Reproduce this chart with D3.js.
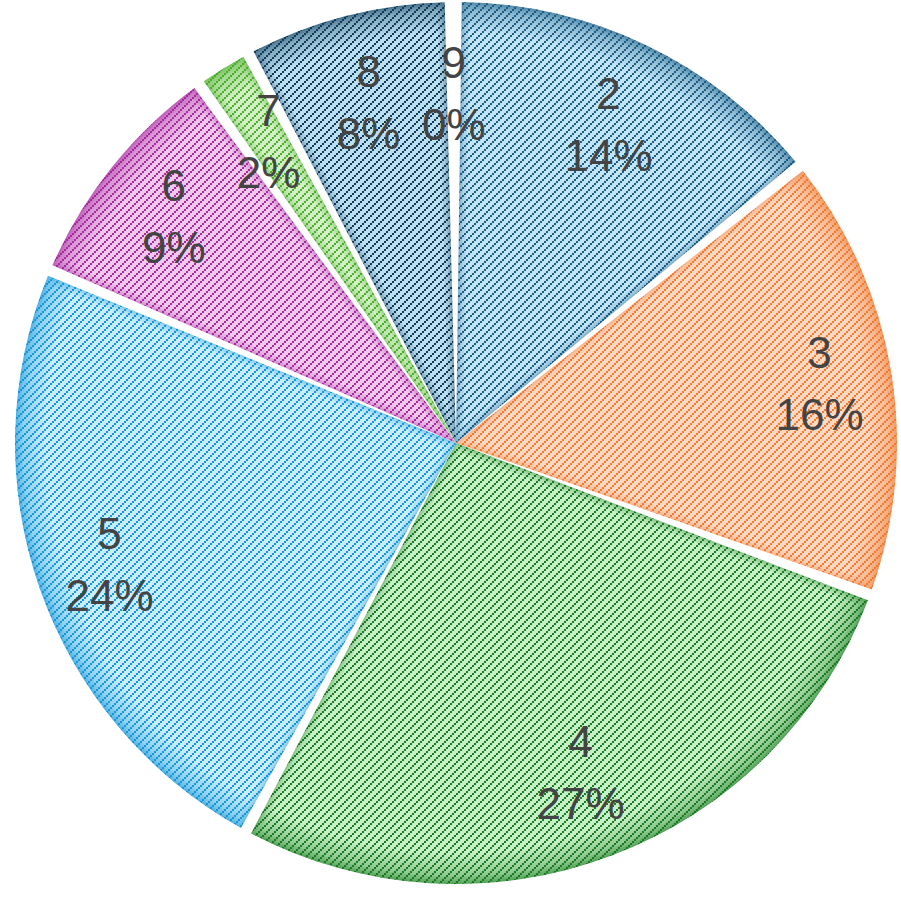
<!DOCTYPE html>
<html>
<head>
<meta charset="utf-8">
<script src="https://cdn.jsdelivr.net/npm/d3@7"></script>
<style>
  html, body { margin: 0; padding: 0; background: #fff; }
  .slice-label { font-family: "Liberation Sans", Arial, sans-serif; font-size: 44px; fill: #444; }
</style>
</head>
<body>
<div id="wrapper"></div>
<script>
// data
const categories = ["2", "3", "4", "5", "6", "7", "8", "9"];
const shares = [14.2, 16.4, 27.3, 23.5, 8.7, 2.1, 7.6, 0.2];
const percentLabels = ["14%", "16%", "27%", "24%", "9%", "2%", "8%", "0%"];
const lightColors = ["#c2e5f6", "#fdd9c4", "#c6f0c6", "#caedfb", "#f0c9ec", "#d2f0c4", "#bcdff0", "#d0d0d0"];
const darkColors = ["#1c5d84", "#f07a30", "#1a7a22", "#1598d8", "#a72aa0", "#4aad2c", "#0f3c5a", "#666666"];

const dataset = categories.map((c, i) => ({
  name: c,
  value: shares[i],
  pct: percentLabels[i],
  light: lightColors[i],
  dark: darkColors[i],
  idx: i,
}));

const dimensions = { width: 901, height: 899, cx: 456, cy: 443, radius: 441 };

const svg = d3
  .select("#wrapper")
  .append("svg")
  .attr("width", dimensions.width)
  .attr("height", dimensions.height);

const defs = svg.append("defs");

dataset.forEach((d) => {
  // striped fill: diagonal dotted lines rising to the right
  const p = defs
    .append("pattern")
    .attr("id", `stripe-${d.idx}`)
    .attr("patternUnits", "userSpaceOnUse")
    .attr("width", 8)
    .attr("height", 8);
  p.append("rect").attr("width", 8).attr("height", 8).attr("fill", d.light);
  [[0, 6], [2, 4], [4, 2], [6, 0]].forEach(([x, y]) => {
    p.append("rect")
      .attr("x", x).attr("y", y)
      .attr("width", 2).attr("height", 2)
      .attr("fill", d.dark)
      .attr("shape-rendering", "crispEdges");
  });

  // rim shading
  const g = defs
    .append("radialGradient")
    .attr("id", `rim-${d.idx}`)
    .attr("gradientUnits", "userSpaceOnUse")
    .attr("cx", 0).attr("cy", 0)
    .attr("r", dimensions.radius);
  g.append("stop").attr("offset", "0.93").attr("stop-color", d.dark).attr("stop-opacity", 0);
  g.append("stop").attr("offset", "1").attr("stop-color", d.dark).attr("stop-opacity", 0.45);
});

const pie = d3.pie().sort(null).value((d) => d.value);
const arcs = pie(dataset);

const arc = d3
  .arc()
  .innerRadius(0)
  .outerRadius(dimensions.radius)
  .padAngle(0.026)
  .padRadius(dimensions.radius);

const bounds = svg
  .append("g")
  .attr("transform", `translate(${dimensions.cx},${dimensions.cy})`);

const drawn = arcs.filter((a) => a.data.value >= 1);

// clip paths live in the same (translated) user space as the slices
drawn.forEach((a) => {
  defs.append("clipPath")
    .attr("id", `clip-${a.data.idx}`)
    .append("path")
    .attr("d", arc(a));
});

const slices = bounds
  .selectAll(".slice")
  .data(drawn)
  .join("g")
  .attr("class", "slice")
  .attr("clip-path", (a) => `url(#clip-${a.data.idx})`);

slices.append("path")
  .attr("d", arc)
  .attr("fill", (a) => `url(#stripe-${a.data.idx})`);

slices.append("path")
  .attr("d", arc)
  .attr("fill", (a) => `url(#rim-${a.data.idx})`);

// soft edge shading along the cut sides
[[14, 0.12], [7, 0.14], [3, 0.16]].forEach(([w, o]) => {
  slices.append("path")
    .attr("d", arc)
    .attr("fill", "none")
    .attr("stroke", (a) => a.data.dark)
    .attr("stroke-width", w)
    .attr("stroke-opacity", o)
    .attr("stroke-linejoin", "round");
});

// labels sit a little further out on the sides than at top/bottom
function labelPos(a) {
  const mid = (a.startAngle + a.endAngle) / 2;
  const r = 350 + 19 * Math.sin(mid) ** 2;
  return [r * Math.sin(mid), -r * Math.cos(mid)];
}

const labels = bounds
  .selectAll(".slice-label")
  .data(arcs)
  .join("text")
  .attr("class", "slice-label")
  .attr("text-anchor", "middle")
  .attr("transform", (a) => `translate(${labelPos(a)})`);

labels
  .append("tspan")
  .attr("x", 0)
  .attr("y", -31)
  .attr("dominant-baseline", "central")
  .text((a) => a.data.name);

labels
  .append("tspan")
  .attr("x", 0)
  .attr("y", 31)
  .attr("dominant-baseline", "central")
  .text((a) => a.data.pct);
</script>
</body>
</html>
